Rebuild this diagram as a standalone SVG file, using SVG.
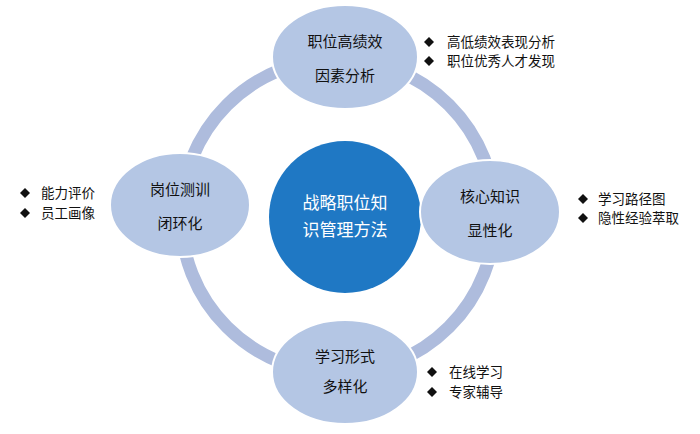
<svg xmlns="http://www.w3.org/2000/svg" width="700" height="434" viewBox="0 0 700 434">
<style>
.n{fill:#b4c6e4;stroke:#fff;stroke-width:2}
.t{font-family:"Noto Sans CJK SC",sans-serif;font-size:15px;fill:#111;text-anchor:middle}
.b{font-family:"Noto Sans CJK SC",sans-serif;font-size:13.5px;fill:#111}
.c{font-family:"Noto Sans CJK SC",sans-serif;font-size:17px;fill:#fff;text-anchor:middle}
</style>
<defs><path id="d" d="M0,-5 L5,0 L0,5 L-5,0Z" fill="#111"/></defs>
<rect width="700" height="434" fill="#fff"/>
<g id="connectors"><circle cx="338" cy="216" r="157" fill="none" stroke="#aebcdd" stroke-width="13"/></g>
<g id="center"><circle cx="345" cy="217" r="76" fill="#1f78c4"/>
<text class="c" x="345" y="209">战略职位知</text><text class="c" x="345" y="236">识管理方法</text></g>
<g id="top"><ellipse class="n" cx="345" cy="57" rx="73" ry="52"/>
<text class="t" x="345" y="47">职位高绩效</text><text class="t" x="345" y="81">因素分析</text></g>
<g id="right"><ellipse class="n" cx="490" cy="212" rx="70" ry="52"/>
<text class="t" x="490" y="202">核心知识</text><text class="t" x="490" y="236">显性化</text></g>
<g id="left"><ellipse class="n" cx="180" cy="205" rx="70" ry="52"/>
<text class="t" x="180" y="195">岗位测训</text><text class="t" x="180" y="229">闭环化</text></g>
<g id="bottom"><ellipse class="n" cx="345" cy="372" rx="73" ry="52"/>
<text class="t" x="345" y="362">学习形式</text><text class="t" x="345" y="392">多样化</text></g>
<g id="notes">
<use href="#d" x="429" y="42"/><text class="b" x="447" y="47">高低绩效表现分析</text>
<use href="#d" x="429" y="61"/><text class="b" x="447" y="66">职位优秀人才发现</text>
<use href="#d" x="583" y="199"/><text class="b" x="598" y="204">学习路径图</text>
<use href="#d" x="583" y="218"/><text class="b" x="598" y="223">隐性经验萃取</text>
<use href="#d" x="25" y="193"/><text class="b" x="41" y="198">能力评价</text>
<use href="#d" x="25" y="213"/><text class="b" x="41" y="218">员工画像</text>
<use href="#d" x="432" y="372"/><text class="b" x="449" y="377">在线学习</text>
<use href="#d" x="432" y="392"/><text class="b" x="449" y="397">专家辅导</text>
</g>
</svg>
